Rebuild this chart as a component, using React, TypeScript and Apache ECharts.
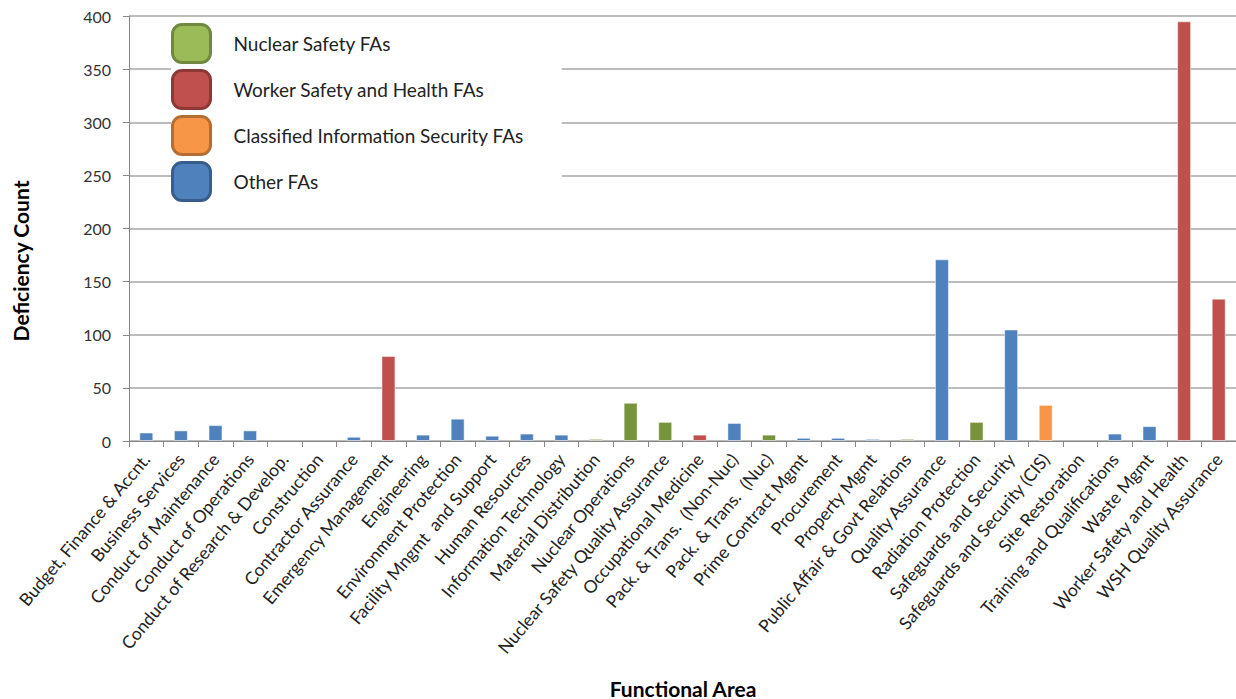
import React, { useEffect, useRef } from "react";
import * as echarts from "echarts";

const categories = [
  "Budget, Finance & Accnt.",
  "Business Services",
  "Conduct of Maintenance",
  "Conduct of Operations",
  "Conduct of Research & Develop.",
  "Construction",
  "Contractor Assurance",
  "Emergency Management",
  "Engineering",
  "Environment Protection",
  "Facility Mngmt  and Support",
  "Human Resources",
  "Information Technology",
  "Material Distribution",
  "Nuclear Operations",
  "Nuclear Safety Quality Assurance",
  "Occupational Medicine",
  "Pack. & Trans.  (Non-Nuc)",
  "Pack. & Trans.  (Nuc)",
  "Prime Contract Mgmt",
  "Procurement",
  "Property Mgmt",
  "Public Affair & Govt Relations",
  "Quality Assurance",
  "Radiation Protection",
  "Safeguards and Security",
  "Safeguards and Security (CIS)",
  "Site Restoration",
  "Training and Qualifications",
  "Waste Mgmt",
  "Worker Safety and Health",
  "WSH Quality Assurance",
];

const counts = [
  8, 10, 15, 10, 0, 0, 4, 80, 6, 21, 5, 7, 6, 2, 36, 18, 6, 17, 6, 3, 3, 2, 2,
  171, 18, 105, 34, 0, 7, 14, 395, 134,
];

// group of each functional area: N = nuclear safety, W = worker safety & health, C = classified info security, O = other
const groups = [
  "O", "O", "O", "O", "O", "O", "O", "W", "O", "O", "O", "O", "O", "N", "N", "N",
  "W", "O", "N", "O", "O", "O", "N", "O", "N", "O", "C", "O", "O", "O", "W", "W",
];

const seriesDefs = [
  { key: "N", name: "Nuclear Safety FAs", bar: "#77933C", icon: "#9BBB59", border: "#71893F" },
  { key: "W", name: "Worker Safety and Health FAs", bar: "#C0504D", icon: "#C0504D", border: "#8C3836" },
  { key: "C", name: "Classified Information Security FAs", bar: "#F79646", icon: "#F79646", border: "#B66D31" },
  { key: "O", name: "Other FAs", bar: "#4F81BD", icon: "#4F81BD", border: "#385D8A" },
];

const yTicks = { min: 0, max: 400, interval: 50 };
const xTitle = "Functional Area";
const yTitle = "Deficiency Count";

const FONT = "Lato, 'Noto Sans', sans-serif";

export default function App() {
  const ref = useRef<HTMLDivElement>(null);
  useEffect(() => {
    if (!ref.current) return;
    const chart = echarts.init(ref.current, null, { renderer: "svg" });
    chart.setOption({
      animation: false,
      backgroundColor: "#ffffff",
      textStyle: { fontFamily: FONT },
      grid: {
        left: 129,
        right: 0,
        top: 16,
        bottom: 258,
        containLabel: false,
        outerBoundsMode: "none",
      },
      graphic: [
        {
          type: "text",
          x: 683,
          y: 688,
          style: {
            text: xTitle,
            fontFamily: FONT,
            fontSize: 21,
            fontWeight: "bold",
            fill: "#000",
            align: "center",
            verticalAlign: "middle",
          },
        },
        {
          type: "text",
          x: 20,
          y: 261,
          rotation: Math.PI / 2,
          style: {
            text: yTitle,
            fontFamily: FONT,
            fontSize: 21,
            fontWeight: "bold",
            fill: "#000",
            align: "center",
            verticalAlign: "middle",
          },
        },
      ],
      legend: {
        orient: "vertical",
        left: 171,
        top: 23,
        itemWidth: 38,
        itemHeight: 38,
        itemGap: 5,
        padding: [0, 38, 6, 0],
        backgroundColor: "#ffffff",
        selectedMode: false,
        textStyle: { fontFamily: FONT, fontSize: 19, color: "#222", padding: [0, 0, 0, 18] },
        data: seriesDefs.map((s) => ({
          name: s.name,
          icon: "roundRect",
          itemStyle: { color: s.icon, borderColor: s.border, borderWidth: 3 },
        })),
      },
      xAxis: {
        type: "category",
        data: categories,
        axisLine: { lineStyle: { color: "#868686", width: 1 } },
        axisTick: { show: true, length: 6, lineStyle: { color: "#868686" } },
        axisLabel: {
          interval: 0,
          rotate: 50,
          margin: 15,
          fontSize: 17.5,
          color: "#222",
          fontFamily: FONT,
        },
      },
      yAxis: {
        type: "value",
        min: yTicks.min,
        max: yTicks.max,
        interval: yTicks.interval,
        axisLine: { show: true, lineStyle: { color: "#868686" } },
        axisTick: { show: true, length: 6, lineStyle: { color: "#868686" } },
        axisLabel: { margin: 18, fontSize: 16, color: "#333", fontFamily: FONT },
        splitLine: { lineStyle: { color: "#a6a6a6", width: 1.5 } },
      },
      series: seriesDefs.map((s) => ({
        type: "bar",
        name: s.name,
        barWidth: 14,
        barGap: "-100%",
        itemStyle: { color: s.bar, borderColor: "rgba(255,255,255,0.5)", borderWidth: 1 },
        data: counts.map((v, i) => (groups[i] === s.key && v > 0 ? v : "-")),
      })),
    });
    return () => chart.dispose();
  }, []);
  return (
    <div
      ref={ref}
      style={{ position: "fixed", left: 0, top: 0, width: 1236, height: 699 }}
    />
  );
}
